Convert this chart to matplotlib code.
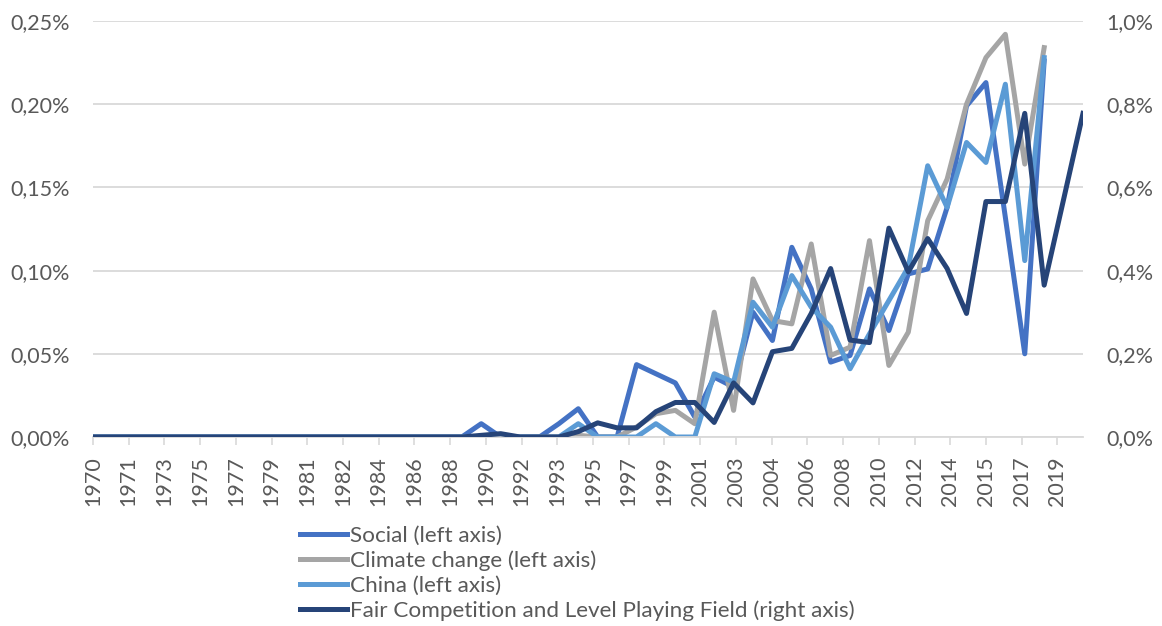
import numpy as np
import matplotlib
matplotlib.use("Agg")
import matplotlib.pyplot as plt

plt.rcParams['font.family'] = ['Lato', 'DejaVu Sans']

nan = np.nan
years = list(range(1970, 2022))

tick_labels = ["1970", "1971", "1973", "1975", "1977", "1979", "1981", "1982", "1984",
               "1986", "1988", "1990", "1992", "1993", "1995", "1997", "1999", "2001",
               "2003", "2004", "2006", "2008", "2010", "2012", "2014", "2015", "2017", "2019"]

# values in percent
social = [0.0] * 20 + [0.008, 0, 0, 0, 0.008, 0.017, 0, 0, 0.0435, 0.038,
                       0.0325, 0.012, 0.036, 0.030, 0.075, 0.058, 0.114, 0.089, 0.045, 0.049,
                       0.089, 0.064, 0.098, 0.101, 0.138, 0.199, 0.213, 0.132, 0.050, 0.226,
                       nan, nan]
climate = [0.0] * 24 + [0, 0.001, 0, 0, 0.006, 0.014,
                        0.016, 0.008, 0.075, 0.016, 0.095, 0.070, 0.068, 0.116, 0.049, 0.054,
                        0.118, 0.043, 0.063, 0.130, 0.155, 0.200, 0.228, 0.242, 0.164, 0.234,
                        nan, nan]
china = [0.0] * 25 + [0.008, 0, 0, 0, 0.008,
                      0, 0, 0.038, 0.033, 0.081, 0.066, 0.097, 0.078, 0.066, 0.041,
                      0.062, 0.082, 0.102, 0.163, 0.138, 0.177, 0.165, 0.212, 0.106, 0.228,
                      nan, nan]
fair = [0.0] * 20 + [0.004, 0.008, 0, 0, 0, 0.013, 0.034, 0.022, 0.022, 0.061,
                     0.083, 0.083, 0.035, 0.130, 0.082, 0.205, 0.213, 0.297, 0.405, 0.233,
                     0.227, 0.502, 0.397, 0.477, 0.405, 0.297, 0.566, 0.566, 0.778, 0.365,
                     0.571, 0.778]

left_ticks = [0.0, 0.05, 0.10, 0.15, 0.20, 0.25]
left_labels = ["0,00%", "0,05%", "0,10%", "0,15%", "0,20%", "0,25%"]
right_ticks = [0.0, 0.2, 0.4, 0.6, 0.8, 1.0]
right_labels = ["0,0%", "0,2%", "0,4%", "0,6%", "0,8%", "1,0%"]

series_names = ["Social (left axis)", "Climate change (left axis)", "China (left axis)",
                "Fair Competition and Level Playing Field (right axis)"]
colors = ["#4472C4", "#A5A5A5", "#5B9BD5", "#264478"]

txt = "#595959"
grid = "#D9D9D9"
fs = 15.5
lfs = 16.2
lw = 3.6

fig = plt.figure(figsize=(11.62, 6.26), dpi=100)
ax = fig.add_axes([93 / 1162, 1 - 437 / 626, 990 / 1162, 416 / 626])
ax2 = ax.twinx()

handles = []
for vals, c, name in zip([social, climate, china], colors[:3], series_names[:3]):
    h, = ax.plot(years, vals, color=c, lw=lw, label=name, solid_joinstyle='round')
    handles.append(h)
h, = ax2.plot(years, fair, color=colors[3], lw=lw, label=series_names[3], solid_joinstyle='round')
handles.append(h)

ax.set_xlim(1970, 2021)
ax.set_ylim(0, 0.25)
ax2.set_ylim(0, 1.0)

step = 1.84
tick_pos = 1970 + np.arange(len(tick_labels)) * step
ax.set_xticks(tick_pos)
ax.set_xticklabels(tick_labels, rotation=90, color=txt, fontsize=fs)
ax.tick_params(axis='x', length=6, width=1.2, color=grid, pad=8)

ax.set_yticks(left_ticks)
ax.set_yticklabels(left_labels, color=txt, fontsize=fs)
ax.tick_params(axis='y', length=0, pad=17)
ax2.set_yticks(right_ticks)
ax2.set_yticklabels(right_labels, color=txt, fontsize=fs)
ax2.tick_params(axis='y', length=0, pad=17)

ax.yaxis.grid(True, color=grid, lw=1.3)
ax.set_axisbelow(True)
for a in (ax, ax2):
    for s in ['left', 'right', 'top']:
        a.spines[s].set_visible(False)
    a.spines['bottom'].set_color(grid)
    a.spines['bottom'].set_linewidth(1.3)
ax2.spines['bottom'].set_visible(False)

leg = fig.legend(handles, series_names, loc='upper left', bbox_to_anchor=(300 / 1162, 1 - 526 / 626),
                 frameon=False, fontsize=lfs, handlelength=2.1, handletextpad=0.1,
                 borderpad=0, borderaxespad=0, labelspacing=0.2)
for t in leg.get_texts():
    t.set_color(txt)

fig.savefig("out.png", dpi=100)
